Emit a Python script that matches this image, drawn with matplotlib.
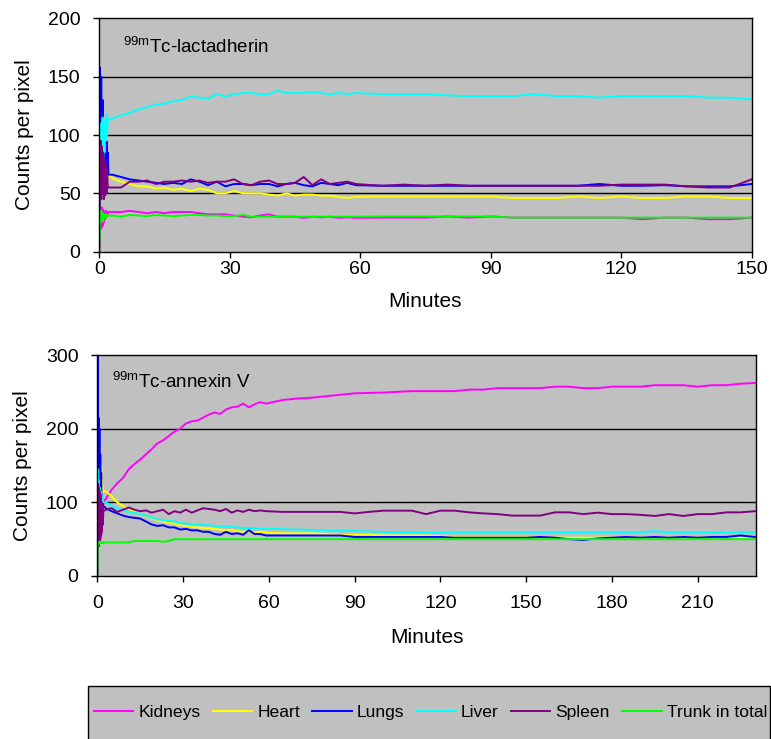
import matplotlib
matplotlib.use("Agg")
import matplotlib.pyplot as plt
from matplotlib.patches import Rectangle

plt.rcParams['font.family'] = ['Liberation Sans', 'DejaVu Sans']
plt.rcParams['mathtext.fontset'] = 'custom'
plt.rcParams['mathtext.rm'] = 'Liberation Sans'

series_names = ["Kidneys", "Heart", "Lungs", "Liver", "Spleen", "Trunk in total"]
series_colors = ["#FF00FF", "#FFFF00", "#0000FF", "#00FFFF", "#800080", "#00FF00"]

# ---------------- 99mTc-lactadherin ----------------
lact_minutes = ([0.0, 0.15, 0.3, 0.45, 0.6, 0.75, 0.9, 1.05, 1.2, 1.35, 1.5, 1.65, 1.8, 1.95, 2.1]
                + [3, 5, 7, 9, 11, 13, 15, 17, 19, 21, 23, 25, 27, 29, 31, 33, 35, 37, 39, 41,
                   43, 45, 47, 49, 51, 53, 55, 57, 59]
                + [65, 70, 75, 80, 85, 90, 95, 100, 105, 110, 115, 120, 125, 130, 135, 140, 145, 150])

lact_kidneys = ([0, 25, 35, 20, 38, 22, 36, 25, 33, 28, 35, 30, 34, 32, 34]
                + [34, 34, 35, 34, 33, 34, 33, 34, 34, 34, 33, 32, 32, 32, 31, 30, 29.5, 31, 32, 30,
                   30, 30, 29, 30, 29.5, 30, 29, 29.5, 29]
                + [29.2, 29.2, 29.2, 30.2, 29.2, 30.2, 29.2, 29.2, 29.2, 29.2, 29.2, 29.2, 27.8, 29.2,
                   29.2, 27.8, 27.8, 29.2])
lact_heart = ([3, 138, 110, 125, 90, 100, 70, 85, 65, 75, 62, 70, 60, 68, 66]
              + [63, 60, 58, 56, 56, 54, 55, 53, 54, 52, 54, 53, 50, 50, 52, 50, 50, 50, 49, 48,
                 50, 48, 49, 49, 48, 48, 47, 46, 47]
              + [47.3, 47.3, 47.3, 47.3, 47.3, 47.3, 46, 46, 46, 47.3, 46, 47.3, 46, 46, 47.3, 47.3,
                 46, 46])
lact_lungs = ([5, 158, 120, 150, 90, 130, 75, 110, 70, 105, 65, 95, 70, 85, 66]
              + [66, 64, 62, 61, 60, 59, 58, 59, 58, 62, 60, 57, 60, 56, 58, 58, 57, 58, 58, 56,
                 58, 59, 57, 56, 59, 58, 57, 59, 57]
              + [56.5, 56.5, 56.5, 56.5, 56.5, 56.5, 56.5, 56.5, 56.5, 56.5, 58, 56.5, 56.5, 57, 56,
                 56, 56, 58])
lact_liver = ([10, 90, 70, 110, 80, 115, 75, 100, 85, 112, 95, 118, 100, 115, 113]
              + [114, 117, 119, 122, 124, 126, 127, 129, 130, 133, 132, 131, 135, 133, 135, 136, 136,
                 135, 135, 138, 136, 136, 136, 137, 136, 135, 136, 135, 136]
              + [135, 135, 135, 134, 133.3, 133.3, 133.3, 135, 133.3, 133.3, 132, 133.3, 133.3, 133.3,
                 133.3, 132, 132, 130.5])
lact_spleen = ([2, 60, 95, 45, 90, 50, 85, 45, 80, 48, 75, 50, 70, 55, 55]
               + [55, 55, 60, 60, 61, 58, 60, 60, 61, 60, 61, 59, 60, 60, 62, 58, 57, 60, 61, 58,
                  58, 59, 64, 57, 62, 58, 59, 60, 58]
               + [56.5, 57.5, 56.5, 57.5, 56.5, 56.5, 56.5, 56.5, 56.5, 56.5, 56.5, 57.5, 57.5, 57.5,
                  56, 55, 55, 62])
lact_trunk = ([4, 30, 25, 35, 28, 33, 26, 32, 29, 31, 30, 32, 30, 31, 31]
              + [31, 30, 31.5, 31, 30.5, 31.5, 31, 30.5, 31, 31.5, 31.5, 31, 31, 30.5, 30.5, 31.5, 30,
                 30, 30, 30, 30, 30, 30, 30, 30, 30, 30, 30, 30]
              + [30.2, 30.2, 30.2, 30.2, 30.2, 30.2, 29.2, 29.2, 29.2, 29.2, 29.2, 29.2, 29.2, 29.2,
                 29.2, 29.2, 29.2, 29.2])

# ---------------- 99mTc-annexin V ----------------
anx_minutes = ([0.0, 0.15, 0.3, 0.45, 0.6, 0.75, 0.9, 1.05, 1.2, 1.35, 1.5, 1.65, 1.8, 1.95, 2.1]
               + [3, 5, 7, 9, 11, 13, 15, 17, 19, 21, 23, 25, 27, 29, 31, 33, 35, 37, 39, 41,
                  43, 45, 47, 49, 51, 53, 55, 57, 59]
               + [65, 70, 75, 80, 85, 90, 95, 100, 105, 110, 115, 120, 125, 130, 135, 140, 145, 150,
                  155, 160, 165, 170, 175, 180, 185, 190, 195, 200, 205, 210, 215, 220, 225, 230])

anx_kidneys = ([0, 30, 55, 45, 65, 55, 75, 65, 80, 75, 85, 85, 92, 95, 100]
               + [105, 117, 126, 133, 145, 152, 158, 165, 172, 180, 184, 190, 196, 200, 207, 210, 211,
                  215, 219, 222, 220, 226, 229, 230, 234, 229, 233, 236, 234]
               + [239, 241, 242, 244, 246, 248, 248.5, 249, 250, 251, 251, 251, 251, 253, 253, 255, 255,
                  255, 255, 257, 257, 255, 255, 257, 257, 257, 259, 259, 259, 257, 259, 259, 261, 262])
anx_heart = ([0, 228, 150, 215, 140, 180, 130, 160, 120, 150, 115, 130, 112, 120, 115]
             + [115, 108, 100, 95, 91, 87, 84, 81, 78, 76, 74, 72, 71, 69, 68, 67, 66, 65, 65, 64,
                63, 62, 62, 61, 60, 60, 59, 60, 59]
             + [58, 58, 58, 57, 56, 56, 56, 55, 55, 55, 55, 54, 53, 53, 53, 53, 53, 53, 52, 52,
                52, 52, 52, 52, 52, 52, 52, 52, 52, 52, 52, 53, 52, 52])
anx_lungs = ([0, 300, 150, 215, 130, 200, 110, 165, 100, 140, 100, 110, 98, 100, 95]
             + [92, 88, 85, 82, 80, 79, 78, 74, 70, 68, 69, 66, 66, 63, 64, 62, 62, 60, 60, 57,
                56, 60, 57, 58, 56, 62, 57, 57, 55]
             + [55, 55, 55, 55, 55, 53, 53, 53, 53, 53, 53, 53, 52, 52, 52, 52, 52, 52, 53, 52,
                50, 49, 51, 52, 53, 52, 53, 52, 53, 52, 53, 53, 55, 53])
anx_liver = ([0, 60, 145, 90, 130, 95, 120, 100, 115, 100, 110, 100, 105, 100, 100]
             + [100, 95, 92, 89, 87, 86, 84, 82, 79, 77, 76, 75, 74, 72, 71, 70, 70, 69, 69, 68,
                67, 67, 67, 66, 65, 65, 65, 64, 64]
             + [63.5, 63, 62.5, 62, 61.5, 61, 60.5, 60, 59.5, 59.5, 59, 59, 59, 59, 59, 59, 59, 59,
                59, 59, 59, 59, 59, 59, 59, 59, 61, 59, 59, 59, 59, 59, 59, 59])
anx_spleen = ([0, 30, 125, 40, 120, 45, 115, 50, 110, 55, 100, 60, 95, 70, 88]
              + [90, 92, 87, 90, 93, 90, 88, 89, 86, 88, 90, 84, 88, 86, 90, 86, 89, 92, 91, 90,
                 88, 91, 86, 89, 87, 90, 88, 89, 88]
              + [87, 87, 87, 87, 87, 85, 87, 88.7, 88.7, 88.7, 84, 88.7, 88.7, 86.4, 85, 84, 82, 82,
                 82, 86.4, 86.4, 84, 86, 84, 84, 83, 81.5, 84, 81.5, 84, 84, 86.4, 86.4, 88])
anx_trunk = ([0, 40, 44, 46, 44, 47, 45, 46, 45, 46, 45, 46, 45, 45, 45]
             + [45.5, 45.5, 45.5, 45.5, 46, 47.5, 47.5, 47.5, 47.5, 47.5, 46.5, 47.5, 50, 50, 50,
                50, 50, 50, 50, 50, 50, 50, 50, 50, 50, 50, 50, 50, 50]
             + [50] * 34)

lact_series = [lact_kidneys, lact_heart, lact_lungs, lact_liver, lact_spleen, lact_trunk]
anx_series = [anx_kidneys, anx_heart, anx_lungs, anx_liver, anx_spleen, anx_trunk]

W, H = 771, 739
fig = plt.figure(figsize=(W / 100, H / 100), dpi=100)


def px_axes(l, r, t, b):
    return fig.add_axes([l / W, 1 - b / H, (r - l) / W, (b - t) / H])


def style(ax, xlim, ylim, xticks, yticks, xpad, xlabelpad):
    ax.set_facecolor("#C0C0C0")
    ax.set_xlim(*xlim)
    ax.set_ylim(*ylim)
    ax.set_xticks(xticks)
    ax.set_yticks(yticks)
    for y in yticks[1:-1]:
        ax.axhline(y, color="black", lw=1.0, zorder=1)
    for s in ax.spines.values():
        s.set_color("black")
        s.set_linewidth(1.0)
    ax.tick_params(axis="both", direction="out", length=4.5, width=1, labelsize=14, color="black")
    ax.tick_params(axis="y", pad=9)
    ax.tick_params(axis="x", pad=xpad)
    ax.set_ylabel("Counts per pixel", fontsize=15, labelpad=10)
    ax.set_xlabel("Minutes", fontsize=15, labelpad=xlabelpad)


ax1 = px_axes(99.3, 751.7, 18.3, 251.7)
lines = []
for vals, name, col in zip(lact_series, series_names, series_colors):
    ln, = ax1.plot(lact_minutes, vals, color=col, lw=1.4, label=name, zorder=2)
    lines.append(ln)
style(ax1, (0, 150), (0, 200), [0, 30, 60, 90, 120, 150], [0, 50, 100, 150, 200], 2, 10)
ax1.text(0.037, 0.853, r"$^{\mathregular{99m}}$Tc-lactadherin", transform=ax1.transAxes,
         fontsize=13.5, va="baseline", ha="left")

ax2 = px_axes(97.3, 756, 355, 576)
for vals, name, col in zip(anx_series, series_names, series_colors):
    ax2.plot(anx_minutes, vals, color=col, lw=1.4, label=name, zorder=2)
style(ax2, (0, 230.4), (0, 300), [0, 30, 60, 90, 120, 150, 180, 210], [0, 100, 200, 300], 9, 12)
ax2.text(0.022, 0.849, r"$^{\mathregular{99m}}$Tc-annexin V", transform=ax2.transAxes,
         fontsize=13.5, va="baseline", ha="left")

# legend box
rect = Rectangle((88 / W, -0.05), (770 - 88) / W, (1 - 686 / H) + 0.05, transform=fig.transFigure,
                 facecolor="#C0C0C0", edgecolor="black", lw=1.0, zorder=0)
fig.patches.append(rect)
fig.legend(handles=lines, labels=series_names, loc="center left",
           bbox_to_anchor=(94 / W, 1 - 712 / H), ncol=6, frameon=False, fontsize=12.6,
           handlelength=2.25, handletextpad=0.3, columnspacing=0.69, borderpad=0, borderaxespad=0)

fig.savefig("out.png", dpi=100)
